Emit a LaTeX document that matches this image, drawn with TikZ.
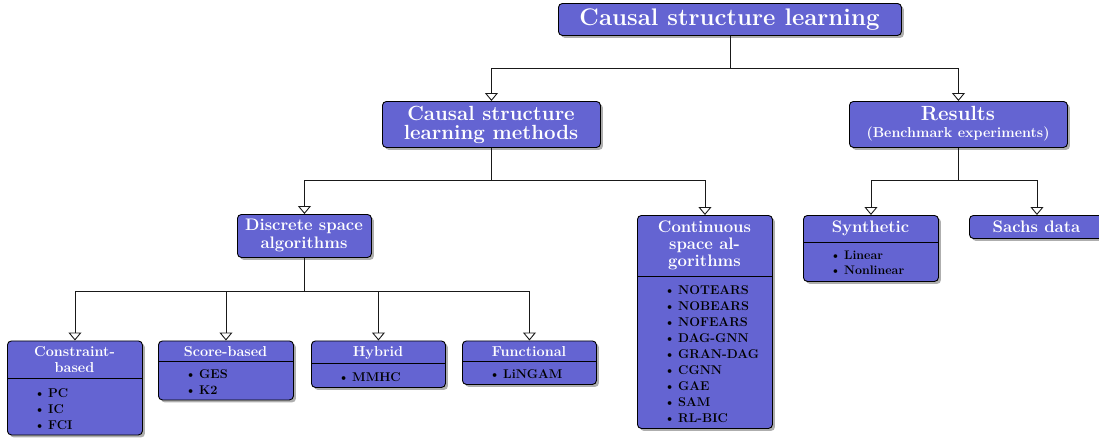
\documentclass[tikz,border=0pt]{standalone}
\usetikzlibrary{arrows.meta,shadows}
\definecolor{boxblue}{RGB}{100,100,210}
\definecolor{edgegray}{RGB}{25,25,25}
\newcommand\itm[1]{\makebox[14pt][l]{\textbullet}#1}
\newcommand\fs[2]{\fontsize{#1}{#2}\selectfont}
\tikzset{
  box/.style={draw=black, line width=0.9pt, fill=boxblue, rounded corners=4pt,
    inner sep=0pt, anchor=north west,
    drop shadow={shadow xshift=2.5pt, shadow yshift=-2.5pt, fill=black!45, opacity=0.7}},
  ttl/.style={text=white, inner sep=0pt, anchor=base, font=\bfseries},
  lst/.style={text=black, inner sep=0pt, anchor=base west, font=\bfseries\fs{12.7}{16}},
  edge/.style={draw=edgegray, line width=0.9pt, -{Triangle[open, length=8pt, width=13pt]}},
  sep/.style={draw=black, line width=0.9pt},
}
\begin{document}
\begin{tikzpicture}[x=1pt,y=-1pt]
\useasboundingbox (0,0) rectangle (1099,437);

% boxes
\node[box, minimum width=343pt, minimum height=32pt] (top) at (558,3) {};
\node[box, minimum width=218pt, minimum height=46pt] (methods) at (382,101) {};
\node[box, minimum width=218pt, minimum height=46pt] (results) at (849,101) {};
\node[box, minimum width=134pt, minimum height=43pt] (discrete) at (237,214) {};
\node[box, minimum width=135pt, minimum height=213pt] (continuous) at (637,215) {};
\node[box, minimum width=135pt, minimum height=66pt] (synthetic) at (803,215) {};
\node[box, minimum width=135pt, minimum height=23pt] (sachs) at (969,215) {};
\node[box, minimum width=135pt, minimum height=94pt] (constraint) at (7,340.5) {};
\node[box, minimum width=135pt, minimum height=59pt] (score) at (158,340.5) {};
\node[box, minimum width=134pt, minimum height=46.5pt] (hybrid) at (311,340.5) {};
\node[box, minimum width=134pt, minimum height=43.5pt] (functional) at (462,340.5) {};

% split lines
\draw[sep] (continuous.west |- 0,276) -- (continuous.east |- 0,276);
\draw[sep] (synthetic.west |- 0,242) -- (synthetic.east |- 0,242);
\draw[sep] (constraint.west |- 0,378) -- (constraint.east |- 0,378);
\draw[sep] (score.west |- 0,361) -- (score.east |- 0,361);
\draw[sep] (hybrid.west |- 0,363) -- (hybrid.east |- 0,363);
\draw[sep] (functional.west |- 0,361) -- (functional.east |- 0,361);

% titles
\node[ttl, font=\bfseries\fs{24}{28}] (top-t) at (729.5,25) {Causal structure learning};
\node[ttl, font=\bfseries\fs{20.5}{16}] (methods-t) at (491,120.7)
  {\begin{tabular}[t]{@{}c@{}}Causal structure\\learning methods\end{tabular}};
\node[ttl, font=\bfseries\fs{20.5}{16.3}] (results-t) at (958,120.7)
  {\begin{tabular}[t]{@{}c@{}}Results\\{\fs{14.3}{16}(Benchmark experiments)}\end{tabular}};
\node[ttl, font=\bfseries\fs{16.7}{17.6}] (discrete-t) at (304,230.7)
  {\begin{tabular}[t]{@{}c@{}}Discrete space\\algorithms\end{tabular}};
\node[ttl, font=\bfseries\fs{16.7}{16.7}] (continuous-t) at (704.5,232.7)
  {\begin{tabular}[t]{@{}c@{}}Continuous\\space al-\\gorithms\end{tabular}};
\node[ttl, font=\bfseries\fs{16.7}{20}] (synthetic-t) at (870.5,232.3) {Synthetic};
\node[ttl, font=\bfseries\fs{16.7}{20}] (sachs-t) at (1036.5,232.3) {Sachs data};
\node[ttl, font=\bfseries\fs{14.4}{16.7}] (constraint-t) at (74.5,356)
  {\begin{tabular}[t]{@{}c@{}}Constraint-\\based\end{tabular}};
\node[ttl, font=\bfseries\fs{14.4}{16.7}] (score-t) at (225.5,356) {Score-based};
\node[ttl, font=\bfseries\fs{14.4}{16.7}] (hybrid-t) at (378,356) {Hybrid};
\node[ttl, font=\bfseries\fs{14.4}{16.7}] (functional-t) at (529,356) {Functional};

% lists
\node[lst] (constraint-l) at (34,397.7)
  {\begin{tabular}[t]{@{}l@{}}\itm{PC}\\\itm{IC}\\\itm{FCI}\end{tabular}};
\node[lst] (score-l) at (185,378.3)
  {\begin{tabular}[t]{@{}l@{}}\itm{GES}\\\itm{K2}\end{tabular}};
\node[lst] (hybrid-l) at (338,381.7)
  {\begin{tabular}[t]{@{}l@{}}\itm{MMHC}\end{tabular}};
\node[lst] (functional-l) at (489,378.3)
  {\begin{tabular}[t]{@{}l@{}}\itm{LiNGAM}\end{tabular}};
\node[lst] (continuous-l) at (664,294.3)
  {\begin{tabular}[t]{@{}l@{}}\itm{NOTEARS}\\\itm{NOBEARS}\\\itm{NOFEARS}\\\itm{DAG-GNN}\\\itm{GRAN-DAG}\\\itm{CGNN}\\\itm{GAE}\\\itm{SAM}\\\itm{RL-BIC}\end{tabular}};
\node[lst, font=\bfseries\fs{12.4}{15.4}] (synthetic-l) at (830,259.3)
  {\begin{tabular}[t]{@{}l@{}}\itm{Linear}\\\itm{Nonlinear}\end{tabular}};

% edges
\draw[edge] (top.south) -- ++(0,33) -| (methods.north);
\draw[edge] (top.south) -- ++(0,33) -| (results.north);
\draw[edge] (methods.south) -- ++(0,33) -| (discrete.north);
\draw[edge] (methods.south) -- ++(0,33) -| (continuous.north);
\draw[edge] (results.south) -- ++(0,33) -| (synthetic.north);
\draw[edge] (results.south) -- ++(0,33) -| (sachs.north);
\draw[edge] (discrete.south) -- ++(0,33.5) -| (constraint.north);
\draw[edge] (discrete.south) -- ++(0,33.5) -| (score.north);
\draw[edge] (discrete.south) -- ++(0,33.5) -| (hybrid.north);
\draw[edge] (discrete.south) -- ++(0,33.5) -| (functional.north);
\end{tikzpicture}
\end{document}
